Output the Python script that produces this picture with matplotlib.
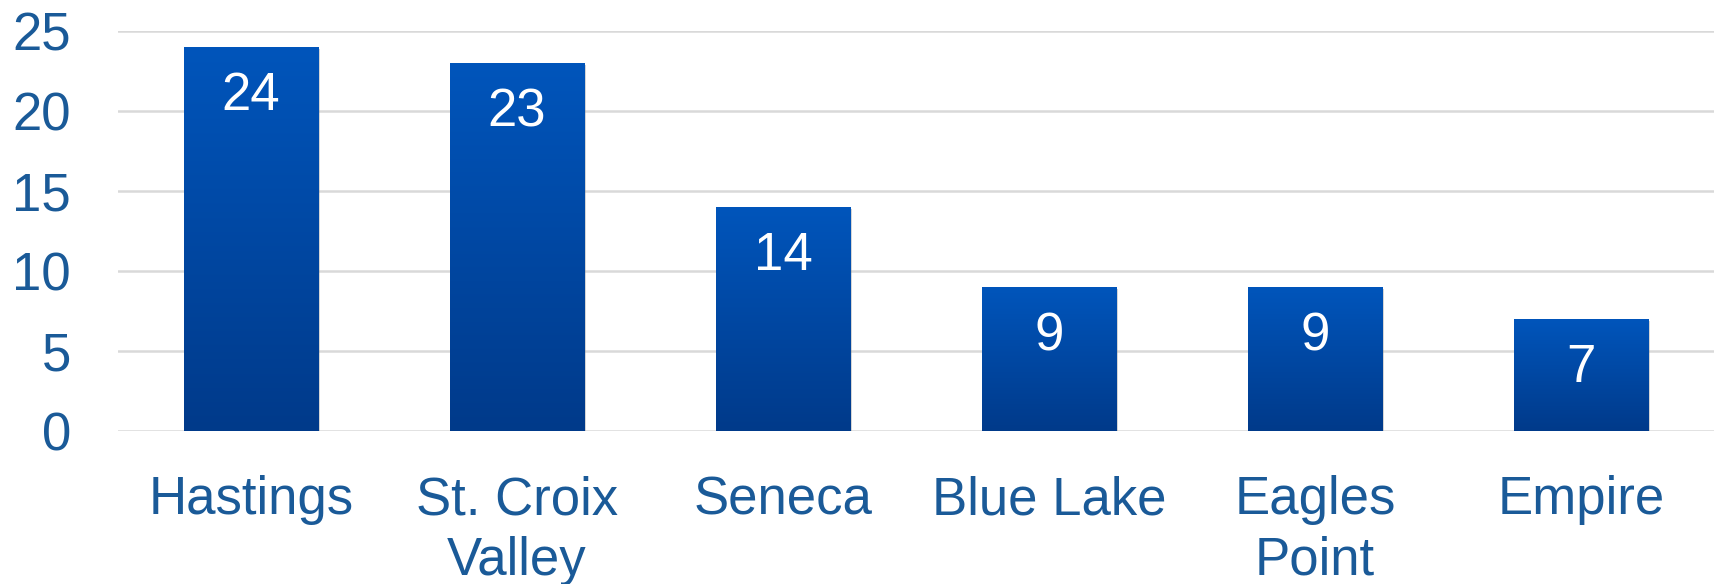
import numpy as np
import matplotlib
matplotlib.use("Agg")
import matplotlib.pyplot as plt
from matplotlib.colors import LinearSegmentedColormap
import matplotlib.patheffects as pe

categories = ["Hastings", "St. Croix\nValley", "Seneca", "Blue Lake", "Eagles\nPoint", "Empire"]
values = [24, 23, 14, 9, 9, 7]
yticks = [0, 5, 10, 15, 20, 25]

plt.rcParams['font.family'] = ['Liberation Sans', 'DejaVu Sans']
text_color = "#1A5A98"
fs = 38

fig = plt.figure(figsize=(17.14, 5.84), dpi=100)
ax = fig.add_axes([118/1714, 153/584, 1 - 118/1714, (431-31)/584])

x = np.arange(len(categories))
bars = ax.bar(x, values, width=0.504, color="#0048A4", zorder=3,
              path_effects=[pe.SimplePatchShadow(offset=(1.5, -1.5), shadow_rgbFace="#888888", alpha=0.35), pe.Normal()])

cmap = LinearSegmentedColormap.from_list("g", ["#003A8A", "#0055BB"])
grad = np.linspace(0, 1, 256).reshape(-1, 1)
for b in bars:
    x0, y0 = b.get_x(), b.get_y()
    w, h = b.get_width(), b.get_height()
    im = ax.imshow(grad, cmap=cmap, origin="lower", aspect="auto",
                   extent=[x0, x0 + w, y0, y0 + h], zorder=4)
    im.set_clip_path(b)

for xi, v in zip(x, values):
    ax.annotate(str(v), (xi, v), xytext=(0, -35.5), textcoords="offset points",
                ha="center", va="center", color="white", fontsize=fs, zorder=5)

ax.set_xlim(-0.5, len(categories) - 0.5)
ax.set_ylim(0, 25)
ax.set_yticks(yticks)
ax.set_yticklabels([str(t) for t in yticks])
ax.set_xticks(x)
ax.set_xticklabels(categories, linespacing=1.27)
ax.tick_params(axis="both", length=0, labelsize=fs, labelcolor=text_color)
ax.tick_params(axis="y", pad=34)
ax.tick_params(axis="x", pad=32)
for s in ax.spines.values():
    s.set_visible(False)
ax.yaxis.grid(True, color="#D9D9D9", linewidth=1.8, zorder=0)
ax.set_axisbelow(True)

fig.savefig("out.png", dpi=100)
